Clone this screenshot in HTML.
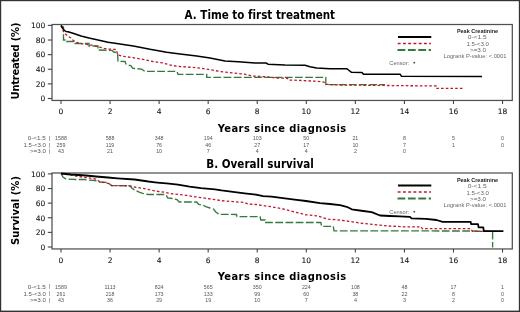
<!DOCTYPE html>
<html><head><meta charset="utf-8"><style>
html,body{margin:0;padding:0;background:#fff;width:520px;height:312px;overflow:hidden}
svg{display:block}
text{font-family:"Liberation Sans", Arial, sans-serif}
.b{font-family:"DejaVu Sans Condensed", "DejaVu Sans", sans-serif;font-variant-ligatures:none}
.c{font-family:"DejaVu Sans",sans-serif;stroke:#111;stroke-width:0.08px}
</style></head><body>
<svg width="520" height="312" viewBox="0 0 520 312">
<rect x="0" y="0" width="520" height="312" fill="#fff"/>
<text x="259.8" y="19" font-size="11.5" font-weight="bold" text-anchor="middle" fill="#000" class="b" textLength="150.5">A. Time to first treatment</text>
<rect x="52.0" y="24.5" width="460.29999999999995" height="75.95" fill="none" stroke="#505050" stroke-width="1.25"/>
<line x1="47.8" y1="98.50" x2="52.0" y2="98.50" stroke="#444" stroke-width="1.1"/>
<text x="45.3" y="101.35" font-size="7.5" text-anchor="end" fill="#111" class="c">0</text>
<line x1="47.8" y1="83.88" x2="52.0" y2="83.88" stroke="#444" stroke-width="1.1"/>
<text x="45.3" y="86.73" font-size="7.5" text-anchor="end" fill="#111" class="c">20</text>
<line x1="47.8" y1="69.26" x2="52.0" y2="69.26" stroke="#444" stroke-width="1.1"/>
<text x="45.3" y="72.11" font-size="7.5" text-anchor="end" fill="#111" class="c">40</text>
<line x1="47.8" y1="54.64" x2="52.0" y2="54.64" stroke="#444" stroke-width="1.1"/>
<text x="45.3" y="57.49" font-size="7.5" text-anchor="end" fill="#111" class="c">60</text>
<line x1="47.8" y1="40.02" x2="52.0" y2="40.02" stroke="#444" stroke-width="1.1"/>
<text x="45.3" y="42.87" font-size="7.5" text-anchor="end" fill="#111" class="c">80</text>
<line x1="47.8" y1="25.40" x2="52.0" y2="25.40" stroke="#444" stroke-width="1.1"/>
<text x="45.3" y="28.25" font-size="7.5" text-anchor="end" fill="#111" class="c">100</text>
<line x1="61.00" y1="100.45" x2="61.00" y2="104.05" stroke="#444" stroke-width="1.1"/>
<text x="61.00" y="114.00" font-size="7.5" text-anchor="middle" fill="#111" class="c">0</text>
<line x1="110.06" y1="100.45" x2="110.06" y2="104.05" stroke="#444" stroke-width="1.1"/>
<text x="110.06" y="114.00" font-size="7.5" text-anchor="middle" fill="#111" class="c">2</text>
<line x1="159.12" y1="100.45" x2="159.12" y2="104.05" stroke="#444" stroke-width="1.1"/>
<text x="159.12" y="114.00" font-size="7.5" text-anchor="middle" fill="#111" class="c">4</text>
<line x1="208.18" y1="100.45" x2="208.18" y2="104.05" stroke="#444" stroke-width="1.1"/>
<text x="208.18" y="114.00" font-size="7.5" text-anchor="middle" fill="#111" class="c">6</text>
<line x1="257.24" y1="100.45" x2="257.24" y2="104.05" stroke="#444" stroke-width="1.1"/>
<text x="257.24" y="114.00" font-size="7.5" text-anchor="middle" fill="#111" class="c">8</text>
<line x1="306.30" y1="100.45" x2="306.30" y2="104.05" stroke="#444" stroke-width="1.1"/>
<text x="306.30" y="114.00" font-size="7.5" text-anchor="middle" fill="#111" class="c">10</text>
<line x1="355.36" y1="100.45" x2="355.36" y2="104.05" stroke="#444" stroke-width="1.1"/>
<text x="355.36" y="114.00" font-size="7.5" text-anchor="middle" fill="#111" class="c">12</text>
<line x1="404.42" y1="100.45" x2="404.42" y2="104.05" stroke="#444" stroke-width="1.1"/>
<text x="404.42" y="114.00" font-size="7.5" text-anchor="middle" fill="#111" class="c">14</text>
<line x1="453.48" y1="100.45" x2="453.48" y2="104.05" stroke="#444" stroke-width="1.1"/>
<text x="453.48" y="114.00" font-size="7.5" text-anchor="middle" fill="#111" class="c">16</text>
<line x1="502.54" y1="100.45" x2="502.54" y2="104.05" stroke="#444" stroke-width="1.1"/>
<text x="502.54" y="114.00" font-size="7.5" text-anchor="middle" fill="#111" class="c">18</text>
<text x="281.9" y="131.50" font-size="11.0" font-weight="bold" text-anchor="middle" fill="#000" class="b" textLength="128.5">Years since diagnosis</text>
<text transform="translate(18.8,61.00) rotate(-90)" x="0" y="0" font-size="11.2" font-weight="bold" text-anchor="middle" fill="#000" class="b" textLength="77">Untreated (%)</text>
<line x1="398" y1="37" x2="431.3" y2="37" stroke="#000" stroke-width="2"/>
<line x1="397.7" y1="43.5" x2="431" y2="43.5" stroke="#c0182c" stroke-width="1.6" stroke-dasharray="2.9 2.35"/>
<line x1="397.5" y1="50" x2="431" y2="50" stroke="#347a3c" stroke-width="1.8" stroke-dasharray="7.8 2.6"/>
<text x="456.90" y="32.90" font-size="5.1" font-weight="bold" fill="#222" style="font-family:"DejaVu Sans", sans-serif" textLength="41.20" lengthAdjust="spacingAndGlyphs">Peak Creatinine</text>
<text x="467.70" y="39.10" font-size="5.1" fill="#666" style="font-family:"DejaVu Sans", sans-serif" textLength="19.10" lengthAdjust="spacingAndGlyphs">0-&lt;1.5</text>
<text x="466.40" y="45.70" font-size="5.1" fill="#666" style="font-family:"DejaVu Sans", sans-serif" textLength="22.50" lengthAdjust="spacingAndGlyphs">1.5-&lt;3.0</text>
<text x="470.00" y="51.90" font-size="5.1" fill="#666" style="font-family:"DejaVu Sans", sans-serif" textLength="16.10" lengthAdjust="spacingAndGlyphs">&gt;=3.0</text>
<text x="443.50" y="58.40" font-size="5.1" fill="#666" style="font-family:"DejaVu Sans", sans-serif" textLength="63.00" lengthAdjust="spacingAndGlyphs">Logrank P-value: &lt;.0001</text>
<text x="389.30" y="64.60" font-size="5.1" fill="#666" style="font-family:"DejaVu Sans", sans-serif" textLength="19.80" lengthAdjust="spacingAndGlyphs">Censor:</text>
<path d="M413.4 62.70h1.8M414.3 61.80v1.8" stroke="#222" stroke-width="0.7" fill="none"/>
<text x="27.70" y="140.25" font-size="5.3" fill="#555" style="font-family:"DejaVu Sans", sans-serif" textLength="18.20" lengthAdjust="spacingAndGlyphs">0-&lt;1.5</text>
<text x="49.3" y="139.95" font-size="5.6" text-anchor="middle" fill="#555" style="font-family:"DejaVu Sans", sans-serif">|</text>
<text x="61.00" y="140.25" font-size="5.3" text-anchor="middle" fill="#555" style="font-family:"DejaVu Sans", sans-serif">1588</text>
<text x="110.06" y="140.25" font-size="5.3" text-anchor="middle" fill="#555" style="font-family:"DejaVu Sans", sans-serif">588</text>
<text x="159.12" y="140.25" font-size="5.3" text-anchor="middle" fill="#555" style="font-family:"DejaVu Sans", sans-serif">348</text>
<text x="208.18" y="140.25" font-size="5.3" text-anchor="middle" fill="#555" style="font-family:"DejaVu Sans", sans-serif">194</text>
<text x="257.24" y="140.25" font-size="5.3" text-anchor="middle" fill="#555" style="font-family:"DejaVu Sans", sans-serif">103</text>
<text x="306.30" y="140.25" font-size="5.3" text-anchor="middle" fill="#555" style="font-family:"DejaVu Sans", sans-serif">50</text>
<text x="355.36" y="140.25" font-size="5.3" text-anchor="middle" fill="#555" style="font-family:"DejaVu Sans", sans-serif">21</text>
<text x="404.42" y="140.25" font-size="5.3" text-anchor="middle" fill="#555" style="font-family:"DejaVu Sans", sans-serif">8</text>
<text x="453.48" y="140.25" font-size="5.3" text-anchor="middle" fill="#555" style="font-family:"DejaVu Sans", sans-serif">5</text>
<text x="502.54" y="140.25" font-size="5.3" text-anchor="middle" fill="#555" style="font-family:"DejaVu Sans", sans-serif">0</text>
<text x="23.60" y="147.10" font-size="5.3" fill="#555" style="font-family:"DejaVu Sans", sans-serif" textLength="22.30" lengthAdjust="spacingAndGlyphs">1.5-&lt;3.0</text>
<text x="49.3" y="146.80" font-size="5.6" text-anchor="middle" fill="#555" style="font-family:"DejaVu Sans", sans-serif">|</text>
<text x="61.00" y="147.10" font-size="5.3" text-anchor="middle" fill="#555" style="font-family:"DejaVu Sans", sans-serif">259</text>
<text x="110.06" y="147.10" font-size="5.3" text-anchor="middle" fill="#555" style="font-family:"DejaVu Sans", sans-serif">119</text>
<text x="159.12" y="147.10" font-size="5.3" text-anchor="middle" fill="#555" style="font-family:"DejaVu Sans", sans-serif">76</text>
<text x="208.18" y="147.10" font-size="5.3" text-anchor="middle" fill="#555" style="font-family:"DejaVu Sans", sans-serif">46</text>
<text x="257.24" y="147.10" font-size="5.3" text-anchor="middle" fill="#555" style="font-family:"DejaVu Sans", sans-serif">27</text>
<text x="306.30" y="147.10" font-size="5.3" text-anchor="middle" fill="#555" style="font-family:"DejaVu Sans", sans-serif">17</text>
<text x="355.36" y="147.10" font-size="5.3" text-anchor="middle" fill="#555" style="font-family:"DejaVu Sans", sans-serif">10</text>
<text x="404.42" y="147.10" font-size="5.3" text-anchor="middle" fill="#555" style="font-family:"DejaVu Sans", sans-serif">7</text>
<text x="453.48" y="147.10" font-size="5.3" text-anchor="middle" fill="#555" style="font-family:"DejaVu Sans", sans-serif">1</text>
<text x="502.54" y="147.10" font-size="5.3" text-anchor="middle" fill="#555" style="font-family:"DejaVu Sans", sans-serif">0</text>
<text x="29.90" y="153.35" font-size="5.3" fill="#555" style="font-family:"DejaVu Sans", sans-serif" textLength="16.00" lengthAdjust="spacingAndGlyphs">&gt;=3.0</text>
<text x="49.3" y="153.05" font-size="5.6" text-anchor="middle" fill="#555" style="font-family:"DejaVu Sans", sans-serif">|</text>
<text x="61.00" y="153.35" font-size="5.3" text-anchor="middle" fill="#555" style="font-family:"DejaVu Sans", sans-serif">43</text>
<text x="110.06" y="153.35" font-size="5.3" text-anchor="middle" fill="#555" style="font-family:"DejaVu Sans", sans-serif">21</text>
<text x="159.12" y="153.35" font-size="5.3" text-anchor="middle" fill="#555" style="font-family:"DejaVu Sans", sans-serif">10</text>
<text x="208.18" y="153.35" font-size="5.3" text-anchor="middle" fill="#555" style="font-family:"DejaVu Sans", sans-serif">7</text>
<text x="257.24" y="153.35" font-size="5.3" text-anchor="middle" fill="#555" style="font-family:"DejaVu Sans", sans-serif">4</text>
<text x="306.30" y="153.35" font-size="5.3" text-anchor="middle" fill="#555" style="font-family:"DejaVu Sans", sans-serif">4</text>
<text x="355.36" y="153.35" font-size="5.3" text-anchor="middle" fill="#555" style="font-family:"DejaVu Sans", sans-serif">2</text>
<text x="404.42" y="153.35" font-size="5.3" text-anchor="middle" fill="#555" style="font-family:"DejaVu Sans", sans-serif">0</text>
<polyline points="61.0,25.5 63.5,27.0 63.5,40.0 66.5,40.0 66.5,41.5 75.0,41.5 75.0,43.5 89.0,43.5 89.0,46.0 98.0,46.0 98.0,50.0 112.0,50.4 113.7,52.0 117.5,52.5 118.0,61.2 125.0,61.5 126.2,64.3 131.0,65.8 132.8,68.3 141.5,69.2 144.8,71.4 177.0,71.4 178.0,74.3 206.7,74.3 206.7,77.3 325.8,77.3 325.8,84.6 385.0,84.6" fill="none" stroke="#347a3c" stroke-width="1.35" stroke-dasharray="7.8 2.4"/>
<polyline points="61.0,25.5 62.5,28.5 63.5,31.5 64.5,33.2 68.0,36.3 71.0,38.0 73.4,40.5 76.8,42.5 81.0,43.6 90.3,44.8 96.5,46.3 104.0,48.3 108.0,49.0 116.0,49.5 118.0,55.0 123.0,56.3 133.0,57.7 143.0,59.3 153.0,61.5 163.0,63.0 172.0,65.5 180.0,66.5 196.7,67.7 208.3,69.3 220.0,71.5 230.0,72.7 243.3,74.0 253.3,76.0 266.0,76.8 276.7,78.0 287.5,78.3 288.3,80.0 302.0,80.5 315.0,81.2 324.0,82.0 325.5,84.3 340.0,85.0 437.0,86.0 437.0,88.3 462.5,88.3" fill="none" stroke="#c0182c" stroke-width="1.3" stroke-dasharray="2.6 2.1"/>
<polyline points="61.0,25.5 62.0,27.5 64.0,30.0 66.0,31.5 68.0,31.8 73.0,33.2 81.0,36.0 89.0,38.0 98.0,39.9 108.0,42.3 116.7,43.5 133.3,46.0 150.0,49.3 166.7,52.2 180.0,54.0 196.7,56.0 210.0,58.0 225.0,61.0 238.3,61.8 255.0,63.0 266.0,63.0 268.0,64.2 285.0,65.0 305.0,65.3 310.0,66.7 316.7,68.0 330.0,68.7 347.0,68.8 348.5,70.0 351.5,72.3 362.0,72.4 363.5,74.2 400.3,74.2 401.3,76.3 482.0,76.5" fill="none" stroke="#000" stroke-width="1.5" stroke-linejoin="round"/>
<text x="260" y="167.5" font-size="11.5" font-weight="bold" text-anchor="middle" fill="#000" class="b" textLength="107.5">B. Overall survival</text>
<rect x="52.0" y="173.0" width="460.29999999999995" height="75.94999999999999" fill="none" stroke="#505050" stroke-width="1.25"/>
<line x1="47.8" y1="247.00" x2="52.0" y2="247.00" stroke="#444" stroke-width="1.1"/>
<text x="45.3" y="249.85" font-size="7.5" text-anchor="end" fill="#111" class="c">0</text>
<line x1="47.8" y1="232.38" x2="52.0" y2="232.38" stroke="#444" stroke-width="1.1"/>
<text x="45.3" y="235.23" font-size="7.5" text-anchor="end" fill="#111" class="c">20</text>
<line x1="47.8" y1="217.76" x2="52.0" y2="217.76" stroke="#444" stroke-width="1.1"/>
<text x="45.3" y="220.61" font-size="7.5" text-anchor="end" fill="#111" class="c">40</text>
<line x1="47.8" y1="203.14" x2="52.0" y2="203.14" stroke="#444" stroke-width="1.1"/>
<text x="45.3" y="205.99" font-size="7.5" text-anchor="end" fill="#111" class="c">60</text>
<line x1="47.8" y1="188.52" x2="52.0" y2="188.52" stroke="#444" stroke-width="1.1"/>
<text x="45.3" y="191.37" font-size="7.5" text-anchor="end" fill="#111" class="c">80</text>
<line x1="47.8" y1="173.90" x2="52.0" y2="173.90" stroke="#444" stroke-width="1.1"/>
<text x="45.3" y="176.75" font-size="7.5" text-anchor="end" fill="#111" class="c">100</text>
<line x1="61.00" y1="248.95" x2="61.00" y2="252.55" stroke="#444" stroke-width="1.1"/>
<text x="61.00" y="262.50" font-size="7.5" text-anchor="middle" fill="#111" class="c">0</text>
<line x1="110.06" y1="248.95" x2="110.06" y2="252.55" stroke="#444" stroke-width="1.1"/>
<text x="110.06" y="262.50" font-size="7.5" text-anchor="middle" fill="#111" class="c">2</text>
<line x1="159.12" y1="248.95" x2="159.12" y2="252.55" stroke="#444" stroke-width="1.1"/>
<text x="159.12" y="262.50" font-size="7.5" text-anchor="middle" fill="#111" class="c">4</text>
<line x1="208.18" y1="248.95" x2="208.18" y2="252.55" stroke="#444" stroke-width="1.1"/>
<text x="208.18" y="262.50" font-size="7.5" text-anchor="middle" fill="#111" class="c">6</text>
<line x1="257.24" y1="248.95" x2="257.24" y2="252.55" stroke="#444" stroke-width="1.1"/>
<text x="257.24" y="262.50" font-size="7.5" text-anchor="middle" fill="#111" class="c">8</text>
<line x1="306.30" y1="248.95" x2="306.30" y2="252.55" stroke="#444" stroke-width="1.1"/>
<text x="306.30" y="262.50" font-size="7.5" text-anchor="middle" fill="#111" class="c">10</text>
<line x1="355.36" y1="248.95" x2="355.36" y2="252.55" stroke="#444" stroke-width="1.1"/>
<text x="355.36" y="262.50" font-size="7.5" text-anchor="middle" fill="#111" class="c">12</text>
<line x1="404.42" y1="248.95" x2="404.42" y2="252.55" stroke="#444" stroke-width="1.1"/>
<text x="404.42" y="262.50" font-size="7.5" text-anchor="middle" fill="#111" class="c">14</text>
<line x1="453.48" y1="248.95" x2="453.48" y2="252.55" stroke="#444" stroke-width="1.1"/>
<text x="453.48" y="262.50" font-size="7.5" text-anchor="middle" fill="#111" class="c">16</text>
<line x1="502.54" y1="248.95" x2="502.54" y2="252.55" stroke="#444" stroke-width="1.1"/>
<text x="502.54" y="262.50" font-size="7.5" text-anchor="middle" fill="#111" class="c">18</text>
<text x="281.9" y="280.00" font-size="11.0" font-weight="bold" text-anchor="middle" fill="#000" class="b" textLength="128.5">Years since diagnosis</text>
<text transform="translate(18.8,210.50) rotate(-90)" x="0" y="0" font-size="11.2" font-weight="bold" text-anchor="middle" fill="#000" class="b" textLength="69">Survival (%)</text>
<line x1="398" y1="185.5" x2="431.3" y2="185.5" stroke="#000" stroke-width="2"/>
<line x1="397.7" y1="192.0" x2="431" y2="192.0" stroke="#c0182c" stroke-width="1.6" stroke-dasharray="2.9 2.35"/>
<line x1="397.5" y1="198.5" x2="431" y2="198.5" stroke="#347a3c" stroke-width="1.8" stroke-dasharray="7.8 2.6"/>
<text x="456.90" y="181.90" font-size="5.1" font-weight="bold" fill="#222" style="font-family:"DejaVu Sans", sans-serif" textLength="41.20" lengthAdjust="spacingAndGlyphs">Peak Creatinine</text>
<text x="467.70" y="188.10" font-size="5.1" fill="#666" style="font-family:"DejaVu Sans", sans-serif" textLength="19.10" lengthAdjust="spacingAndGlyphs">0-&lt;1.5</text>
<text x="466.40" y="194.70" font-size="5.1" fill="#666" style="font-family:"DejaVu Sans", sans-serif" textLength="22.50" lengthAdjust="spacingAndGlyphs">1.5-&lt;3.0</text>
<text x="470.00" y="200.90" font-size="5.1" fill="#666" style="font-family:"DejaVu Sans", sans-serif" textLength="16.10" lengthAdjust="spacingAndGlyphs">&gt;=3.0</text>
<text x="443.50" y="207.40" font-size="5.1" fill="#666" style="font-family:"DejaVu Sans", sans-serif" textLength="63.00" lengthAdjust="spacingAndGlyphs">Logrank P-value: &lt;.0001</text>
<text x="389.30" y="213.60" font-size="5.1" fill="#666" style="font-family:"DejaVu Sans", sans-serif" textLength="19.80" lengthAdjust="spacingAndGlyphs">Censor:</text>
<path d="M413.4 211.70h1.8M414.3 210.80v1.8" stroke="#222" stroke-width="0.7" fill="none"/>
<text x="27.70" y="288.75" font-size="5.3" fill="#555" style="font-family:"DejaVu Sans", sans-serif" textLength="18.20" lengthAdjust="spacingAndGlyphs">0-&lt;1.5</text>
<text x="49.3" y="288.45" font-size="5.6" text-anchor="middle" fill="#555" style="font-family:"DejaVu Sans", sans-serif">|</text>
<text x="61.00" y="288.75" font-size="5.3" text-anchor="middle" fill="#555" style="font-family:"DejaVu Sans", sans-serif">1589</text>
<text x="110.06" y="288.75" font-size="5.3" text-anchor="middle" fill="#555" style="font-family:"DejaVu Sans", sans-serif">1113</text>
<text x="159.12" y="288.75" font-size="5.3" text-anchor="middle" fill="#555" style="font-family:"DejaVu Sans", sans-serif">824</text>
<text x="208.18" y="288.75" font-size="5.3" text-anchor="middle" fill="#555" style="font-family:"DejaVu Sans", sans-serif">565</text>
<text x="257.24" y="288.75" font-size="5.3" text-anchor="middle" fill="#555" style="font-family:"DejaVu Sans", sans-serif">350</text>
<text x="306.30" y="288.75" font-size="5.3" text-anchor="middle" fill="#555" style="font-family:"DejaVu Sans", sans-serif">224</text>
<text x="355.36" y="288.75" font-size="5.3" text-anchor="middle" fill="#555" style="font-family:"DejaVu Sans", sans-serif">108</text>
<text x="404.42" y="288.75" font-size="5.3" text-anchor="middle" fill="#555" style="font-family:"DejaVu Sans", sans-serif">48</text>
<text x="453.48" y="288.75" font-size="5.3" text-anchor="middle" fill="#555" style="font-family:"DejaVu Sans", sans-serif">17</text>
<text x="502.54" y="288.75" font-size="5.3" text-anchor="middle" fill="#555" style="font-family:"DejaVu Sans", sans-serif">1</text>
<text x="23.60" y="295.60" font-size="5.3" fill="#555" style="font-family:"DejaVu Sans", sans-serif" textLength="22.30" lengthAdjust="spacingAndGlyphs">1.5-&lt;3.0</text>
<text x="49.3" y="295.30" font-size="5.6" text-anchor="middle" fill="#555" style="font-family:"DejaVu Sans", sans-serif">|</text>
<text x="61.00" y="295.60" font-size="5.3" text-anchor="middle" fill="#555" style="font-family:"DejaVu Sans", sans-serif">261</text>
<text x="110.06" y="295.60" font-size="5.3" text-anchor="middle" fill="#555" style="font-family:"DejaVu Sans", sans-serif">218</text>
<text x="159.12" y="295.60" font-size="5.3" text-anchor="middle" fill="#555" style="font-family:"DejaVu Sans", sans-serif">173</text>
<text x="208.18" y="295.60" font-size="5.3" text-anchor="middle" fill="#555" style="font-family:"DejaVu Sans", sans-serif">133</text>
<text x="257.24" y="295.60" font-size="5.3" text-anchor="middle" fill="#555" style="font-family:"DejaVu Sans", sans-serif">99</text>
<text x="306.30" y="295.60" font-size="5.3" text-anchor="middle" fill="#555" style="font-family:"DejaVu Sans", sans-serif">60</text>
<text x="355.36" y="295.60" font-size="5.3" text-anchor="middle" fill="#555" style="font-family:"DejaVu Sans", sans-serif">38</text>
<text x="404.42" y="295.60" font-size="5.3" text-anchor="middle" fill="#555" style="font-family:"DejaVu Sans", sans-serif">22</text>
<text x="453.48" y="295.60" font-size="5.3" text-anchor="middle" fill="#555" style="font-family:"DejaVu Sans", sans-serif">8</text>
<text x="502.54" y="295.60" font-size="5.3" text-anchor="middle" fill="#555" style="font-family:"DejaVu Sans", sans-serif">0</text>
<text x="29.90" y="301.85" font-size="5.3" fill="#555" style="font-family:"DejaVu Sans", sans-serif" textLength="16.00" lengthAdjust="spacingAndGlyphs">&gt;=3.0</text>
<text x="49.3" y="301.55" font-size="5.6" text-anchor="middle" fill="#555" style="font-family:"DejaVu Sans", sans-serif">|</text>
<text x="61.00" y="301.85" font-size="5.3" text-anchor="middle" fill="#555" style="font-family:"DejaVu Sans", sans-serif">43</text>
<text x="110.06" y="301.85" font-size="5.3" text-anchor="middle" fill="#555" style="font-family:"DejaVu Sans", sans-serif">36</text>
<text x="159.12" y="301.85" font-size="5.3" text-anchor="middle" fill="#555" style="font-family:"DejaVu Sans", sans-serif">29</text>
<text x="208.18" y="301.85" font-size="5.3" text-anchor="middle" fill="#555" style="font-family:"DejaVu Sans", sans-serif">19</text>
<text x="257.24" y="301.85" font-size="5.3" text-anchor="middle" fill="#555" style="font-family:"DejaVu Sans", sans-serif">10</text>
<text x="306.30" y="301.85" font-size="5.3" text-anchor="middle" fill="#555" style="font-family:"DejaVu Sans", sans-serif">7</text>
<text x="355.36" y="301.85" font-size="5.3" text-anchor="middle" fill="#555" style="font-family:"DejaVu Sans", sans-serif">4</text>
<text x="404.42" y="301.85" font-size="5.3" text-anchor="middle" fill="#555" style="font-family:"DejaVu Sans", sans-serif">3</text>
<text x="453.48" y="301.85" font-size="5.3" text-anchor="middle" fill="#555" style="font-family:"DejaVu Sans", sans-serif">2</text>
<text x="502.54" y="301.85" font-size="5.3" text-anchor="middle" fill="#555" style="font-family:"DejaVu Sans", sans-serif">0</text>
<polyline points="61.0,173.5 63.0,177.0 66.0,179.0 76.0,179.5 84.0,179.5 88.0,180.0 95.0,180.5 98.0,182.0 107.0,182.4 109.0,183.5 111.5,185.6 130.0,185.8 131.7,188.0 134.6,189.9 139.2,192.2 142.7,193.3 148.4,194.5 165.4,194.5 166.5,195.6 167.7,197.9 172.3,198.5 177.0,199.6 179.2,202.0 196.5,202.0 198.8,204.3 203.4,205.4 205.8,206.6 210.0,208.0 213.5,209.0 215.8,212.0 219.2,214.3 236.5,214.5 237.0,216.6 260.0,216.7 260.8,220.0 265.0,220.0 265.0,222.5 320.8,222.5 321.7,226.3 333.3,226.3 334.0,230.8 471.0,231.0 492.6,231.5 492.6,247.5" fill="none" stroke="#347a3c" stroke-width="1.35" stroke-dasharray="7.8 2.4"/>
<polyline points="61.0,173.5 63.0,174.0 71.0,175.0 78.0,176.5 86.0,177.5 96.0,179.0 100.0,181.8 109.0,183.5 111.5,185.6 130.0,185.8 134.6,187.0 146.0,189.0 155.0,191.0 164.2,192.2 172.3,193.9 183.8,195.0 195.4,196.8 207.0,198.5 215.0,199.6 221.5,200.7 233.0,201.6 244.6,202.5 248.0,204.0 256.0,204.5 263.0,205.6 271.5,206.8 283.0,209.0 294.6,212.0 306.0,214.8 316.7,215.8 328.3,219.2 336.0,219.7 346.7,221.0 363.3,223.5 380.0,225.2 388.3,226.0 405.0,226.8 421.2,226.8 422.2,228.7 471.0,228.7 472.3,231.3 500.0,231.3" fill="none" stroke="#c0182c" stroke-width="1.3" stroke-dasharray="2.6 2.1"/>
<polyline points="61.0,173.5 71.0,174.5 86.0,175.5 96.0,176.5 108.0,177.5 117.3,178.3 134.6,179.5 148.4,181.5 155.0,182.3 160.0,182.8 166.5,183.4 178.0,184.7 189.6,186.6 201.0,188.1 215.0,189.3 221.5,190.3 233.0,191.8 244.6,193.3 256.0,194.7 263.0,196.2 271.5,196.6 283.0,198.1 294.6,199.6 306.0,201.0 320.0,203.1 330.0,204.0 340.0,205.2 346.7,206.8 351.7,209.3 363.3,211.0 371.7,212.2 380.0,215.5 390.0,216.0 400.0,216.4 410.0,216.9 411.5,218.4 426.0,218.9 436.5,220.0 442.6,221.8 470.6,221.8 471.2,224.2 478.0,224.2 478.6,227.3 483.3,227.3 483.8,231.2 503.4,231.2" fill="none" stroke="#000" stroke-width="1.8" stroke-linejoin="round"/>
<rect x="0" y="0" width="520" height="1.2" fill="#333"/><rect x="0" y="0" width="1.2" height="312" fill="#333"/><rect x="518.85" y="0" width="1.15" height="312" fill="#333"/><rect x="0" y="310.6" width="520" height="1.4" fill="#333"/>
</svg>
</body></html>
